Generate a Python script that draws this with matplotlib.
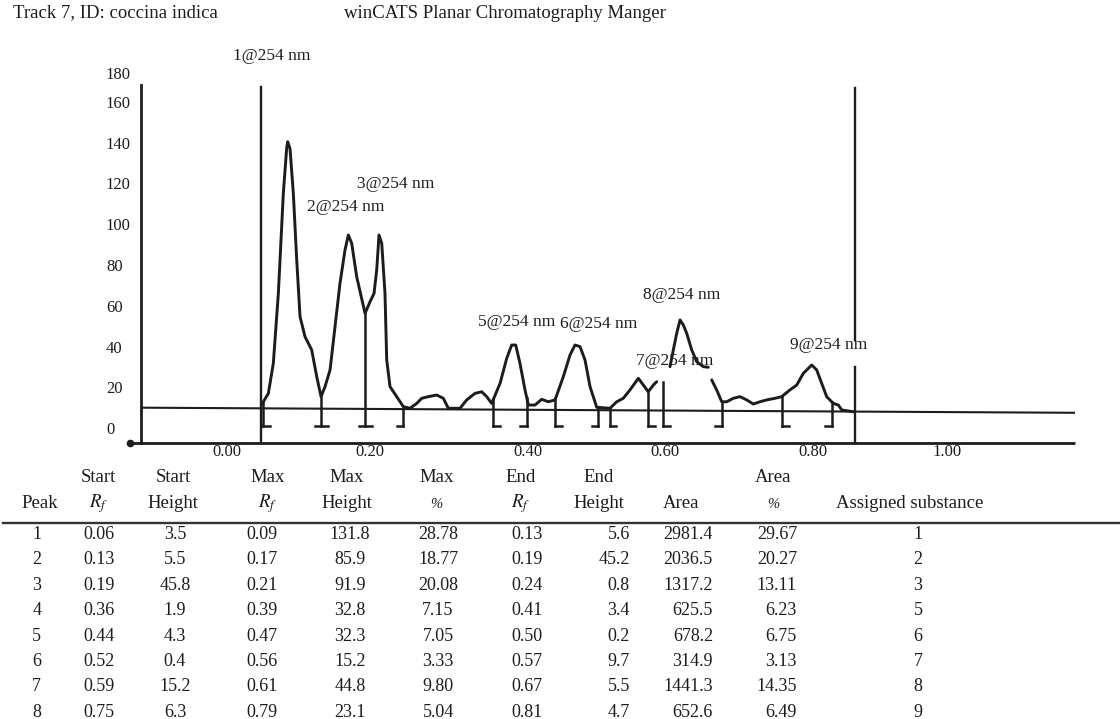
import numpy as np
import matplotlib
matplotlib.use("Agg")
import matplotlib.pyplot as plt
from matplotlib.lines import Line2D

plt.rcParams['font.family'] = ['Liberation Serif', 'DejaVu Serif']
plt.rcParams['mathtext.fontset'] = 'stix'

# ---------------- data ----------------
# densitogram trace: Rf vs signal, drawn in three visible pieces
TRACE_A_RF = [0.0486, 0.0574, 0.0643, 0.0713, 0.0782, 0.0829, 0.0843, 0.0875, 0.0921, 0.0968,
              0.1014, 0.1083, 0.1176, 0.1246, 0.1306, 0.1361, 0.1431, 0.1500, 0.1569, 0.1639,
              0.1685, 0.1732, 0.1801, 0.1917, 0.1986, 0.2042, 0.2079, 0.2111, 0.2149, 0.2194,
              0.2218, 0.2264, 0.2357, 0.2449, 0.2542, 0.2635, 0.2704, 0.2796, 0.2913, 0.3004,
              0.3074, 0.3236, 0.3329, 0.3444, 0.3538, 0.3607, 0.3676, 0.3792, 0.3885, 0.3954,
              0.4010, 0.4069, 0.4139, 0.4185, 0.4278, 0.4371, 0.4463, 0.4556, 0.4671, 0.4764,
              0.4833, 0.4903, 0.4972, 0.5042, 0.5135, 0.5319, 0.5413, 0.5504, 0.5597, 0.5713,
              0.5782, 0.5851, 0.5921, 0.5968]
TRACE_A_H = [11.9, 17.1, 31.8, 66.1, 115.1, 137.5, 140.4, 137.0, 115.1, 82.5,
             54.7, 44.9, 38.4, 25.3, 15.5, 20.4, 28.6, 49.8, 71.0, 87.4,
             94.7, 90.6, 74.3, 56.3, 62.0, 66.1, 77.6, 94.7, 90.6, 66.1,
             33.5, 20.4, 15.5, 10.6, 9.8, 12.2, 14.7, 15.5, 16.3, 14.7,
             9.8, 9.8, 13.9, 17.1, 17.9, 15.5, 12.2, 22.0, 34.3, 40.8,
             40.8, 31.8, 18.8, 11.4, 11.4, 14.2, 13.0, 13.9, 25.3, 35.9,
             40.8, 40.0, 33.5, 20.4, 10.3, 9.8, 13.0, 14.7, 18.8, 24.5,
             21.2, 17.9, 21.2, 22.8]
TRACE_B_RF = [0.6153, 0.6199, 0.6246, 0.6292, 0.6338, 0.6385, 0.6454, 0.6524, 0.6615, 0.6685]
TRACE_B_H = [30.2, 38.4, 46.5, 53.1, 50.6, 46.5, 38.4, 32.6, 30.2, 29.9]
TRACE_C_RF = [0.6732, 0.6801, 0.6871, 0.6940, 0.7032, 0.7125, 0.7218, 0.7310, 0.7403, 0.7496,
              0.7611, 0.7704, 0.7819, 0.7913, 0.8004, 0.8121, 0.8190, 0.8260, 0.8329, 0.8421,
              0.8490, 0.8538, 0.8699]
TRACE_C_H = [23.7, 18.8, 13.0, 13.0, 14.7, 15.5, 13.9, 11.9, 13.0, 13.9,
             14.7, 15.5, 18.8, 21.2, 26.9, 31.0, 28.6, 22.0, 15.5, 12.2,
             11.4, 9.0, 8.1]

BASELINE_RF = [-0.12, 1.178]
BASELINE_H = [10.1, 7.6]

# integration boundary markers
MARK_RF = [0.0504, 0.1306, 0.1917, 0.2449, 0.3699, 0.4163, 0.4556,
           0.5157, 0.5319, 0.5851, 0.6060, 0.6871, 0.7713, 0.8399]
MARK_FOOT = ['R', 'B', 'B', 'L', 'R', 'L', 'R', 'L', 'R', 'R', 'R', 'L', 'R', 'L']

APPLICATION_RF = 0.0468
FRONT_RF = 0.872

PEAK_LABELS = ['1@254 nm', '2@254 nm', '3@254 nm', '5@254 nm', '6@254 nm',
               '7@254 nm', '8@254 nm', '9@254 nm']
PEAK_LABEL_RF = [0.0625, 0.1653, 0.2347, 0.4024, 0.5157, 0.6222, 0.6315, 0.8351]
PEAK_LABEL_H = [182.3, 108.4, 119.7, 52.2, 51.3, 33.0, 65.3, 40.8]

YTICK_POS = [0, 20, 40, 60, 80, 100, 120, 140, 160, 174.2]
YTICK_LABELS = ['0', '20', '40', '60', '80', '100', '120', '140', '160', '180']
XTICK_POS = [0.0, 0.199, 0.418, 0.608, 0.814, 1.0]
XTICK_LABELS = ['0.00', '0.20', '0.40', '0.60', '0.80', '1.00']

# results table
TABLE_PEAK = [1, 2, 3, 4, 5, 6, 7, 8]
START_RF = [0.06, 0.13, 0.19, 0.36, 0.44, 0.52, 0.59, 0.75]
START_HEIGHT = [3.5, 5.5, 45.8, 1.9, 4.3, 0.4, 15.2, 6.3]
MAX_RF = [0.09, 0.17, 0.21, 0.39, 0.47, 0.56, 0.61, 0.79]
MAX_HEIGHT = [131.8, 85.9, 91.9, 32.8, 32.3, 15.2, 44.8, 23.1]
MAX_PCT = [28.78, 18.77, 20.08, 7.15, 7.05, 3.33, 9.80, 5.04]
END_RF = [0.13, 0.19, 0.24, 0.41, 0.50, 0.57, 0.67, 0.81]
END_HEIGHT = [5.6, 45.2, 0.8, 3.4, 0.2, 9.7, 5.5, 4.7]
AREA = [2981.4, 2036.5, 1317.2, 625.5, 678.2, 314.9, 1441.3, 652.6]
AREA_PCT = [29.67, 20.27, 13.11, 6.23, 6.75, 3.13, 14.35, 6.49]
ASSIGNED = [1, 2, 3, 5, 6, 7, 8, 9]

TITLE_LEFT = 'Track 7, ID: coccina indica'
TITLE_RIGHT = 'winCATS Planar Chromatography Manger'

# ---------------- layout / style ----------------
W, H = 1120, 719
INK = '#1c1c1c'
fig = plt.figure(figsize=(W / 100, H / 100), dpi=100)


def fx(px):
    return px / W


def fy(py):
    return 1 - py / H


ax = fig.add_axes([fx(140.7), fy(442.7), fx(1075) - fx(140.7), fy(60) - fy(442.7)])
Y0, YTOP = -7.06, 180.45
ax.set_xlim(-0.1199, 1.1778)
ax.set_ylim(Y0, YTOP)
ax.patch.set_alpha(0)
for s in ['top', 'right', 'bottom']:
    ax.spines[s].set_visible(False)
ax.spines['left'].set_bounds(Y0, 168.2)
ax.spines['left'].set_linewidth(2.0)
ax.spines['left'].set_color(INK)

ax.set_yticks(YTICK_POS, YTICK_LABELS)
ax.set_xticks(XTICK_POS, XTICK_LABELS)
ax.tick_params(axis='y', length=0, pad=25, labelsize=12, labelcolor=INK)
for lab in ax.get_yticklabels():
    lab.set_horizontalalignment('left')
ax.tick_params(axis='x', length=0, pad=1, labelsize=12, labelcolor=INK)

# frame lines
ax.plot([-0.1347, 1.1778], [Y0, Y0], color=INK, lw=2.0, clip_on=False, solid_capstyle='butt')
ax.plot([-0.1347], [Y0], 'o', color=INK, ms=4.5, clip_on=False)
ax.plot([APPLICATION_RF] * 2, [Y0, 167.4], color=INK, lw=1.7)
ax.plot([FRONT_RF] * 2, [43.3, 166.8], color=INK, lw=1.7)
ax.plot([FRONT_RF] * 2, [Y0, 30.0], color=INK, lw=1.7)
ax.plot(BASELINE_RF, BASELINE_H, color=INK, lw=1.5)

# trace
for xs, ys in [(TRACE_A_RF, TRACE_A_H), (TRACE_B_RF, TRACE_B_H), (TRACE_C_RF, TRACE_C_H)]:
    ax.plot(xs, ys, color=INK, lw=2.1, solid_joinstyle='round', solid_capstyle='round',
            zorder=3)

# integration markers
ref_rf = np.array(TRACE_A_RF + TRACE_C_RF)
ref_h = np.array(TRACE_A_H + TRACE_C_H)
MARK_BOTTOM = 1.0
FOOT = 0.009
for rf, foot in zip(MARK_RF, MARK_FOOT):
    top = float(np.interp(rf, ref_rf, ref_h))
    ax.plot([rf, rf], [MARK_BOTTOM, top], color=INK, lw=1.8, zorder=3)
    if foot == 'R':
        fxs = [rf, rf + FOOT]
    elif foot == 'L':
        fxs = [rf - FOOT, rf]
    else:
        fxs = [rf - FOOT, rf + FOOT]
    ax.plot(fxs, [MARK_BOTTOM] * 2, color=INK, lw=1.8, zorder=3)

for lab, rf, h in zip(PEAK_LABELS, PEAK_LABEL_RF, PEAK_LABEL_H):
    ax.text(rf, h, lab, ha='center', va='center', fontsize=12.5, color=INK, zorder=1)

# header
fig.text(fx(13), fy(13), TITLE_LEFT, ha='left', va='center', fontsize=13.5, color=INK)
fig.text(fx(343.75), fy(13), TITLE_RIGHT, ha='left', va='center', fontsize=13.5, color=INK)

# ---------------- table ----------------
HEAD_B1, HEAD_B2 = 482.3, 507.5          # baselines of the two header lines
RULE_Y = 523.3
ROW_B0, ROW_DY = 539.0, 25.4             # baseline of first data row, row step
TFS = 13.5
columns = [
    ('', 'Peak', 40, 36.7, 'center', TABLE_PEAK, '{:d}'),
    ('Start', '$R_f$', 98.3, 99, 'center', START_RF, '{:.2f}'),
    ('Start', 'Height', 173, 175, 'center', START_HEIGHT, '{:.1f}'),
    ('Max', '$R_f$', 268, 262, 'center', MAX_RF, '{:.2f}'),
    ('Max', 'Height', 347, 350, 'center', MAX_HEIGHT, '{:.1f}'),
    ('Max', '%', 436.7, 438, 'center', MAX_PCT, '{:.2f}'),
    ('End', '$R_f$', 520.7, 527, 'center', END_RF, '{:.2f}'),
    ('End', 'Height', 599, 630, 'right', END_HEIGHT, '{:.1f}'),
    ('', 'Area', 681, 713, 'right', AREA, '{:.1f}'),
    ('Area', '%', 773.3, 797, 'right', AREA_PCT, '{:.2f}'),
    ('', 'Assigned substance', 910, 918, 'center', ASSIGNED, '{:d}'),
]
for h1, h2, xh, xd, al, vals, fmt in columns:
    if h1:
        fig.text(fx(xh), fy(HEAD_B1), h1, ha='center', va='baseline', fontsize=TFS, color=INK)
    if h2 == '%':
        fig.text(fx(xh), fy(HEAD_B2 + 1), h2, ha='center', va='baseline', fontsize=10.5,
                 style='italic', color=INK)
    else:
        fig.text(fx(xh), fy(HEAD_B2), h2, ha='center', va='baseline', fontsize=TFS, color=INK)
    for i, v in enumerate(vals):
        fig.text(fx(xd), fy(ROW_B0 + i * ROW_DY), fmt.format(v), ha=al, va='baseline',
                 fontsize=TFS - 0.5, color=INK)

fig.add_artist(Line2D([fx(3), fx(1120)], [fy(RULE_Y)] * 2, transform=fig.transFigure,
                      color='#333333', lw=1.7))

fig.savefig('out.png', dpi=100)
